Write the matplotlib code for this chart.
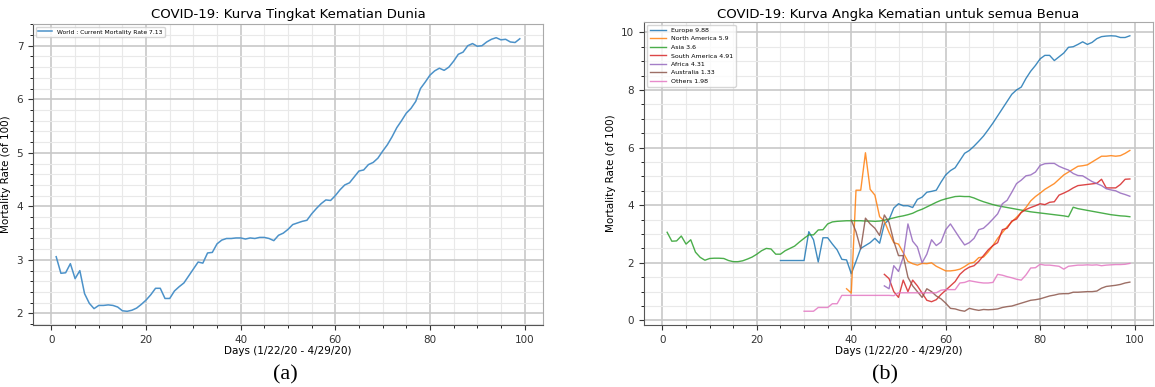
import matplotlib
matplotlib.use('Agg')
import matplotlib.pyplot as plt
import numpy as np

# world mortality rate, days 1..99
world_start = 1
world = [3.06, 2.75, 2.76, 2.93, 2.65, 2.8, 2.37, 2.19, 2.09, 2.15,
         2.15, 2.16, 2.15, 2.12, 2.05, 2.04, 2.06, 2.1, 2.17, 2.25,
         2.35, 2.47, 2.47, 2.28, 2.28, 2.42, 2.5, 2.57, 2.7, 2.83,
         2.96, 2.94, 3.13, 3.14, 3.3, 3.37, 3.4, 3.4, 3.41, 3.41,
         3.39, 3.41, 3.4, 3.42, 3.42, 3.4, 3.36, 3.46, 3.5, 3.57,
         3.66, 3.69, 3.72, 3.74, 3.86, 3.96, 4.05, 4.12, 4.11, 4.2,
         4.31, 4.4, 4.44, 4.55, 4.66, 4.68, 4.78, 4.82, 4.9, 5.03,
         5.15, 5.3, 5.47, 5.6, 5.74, 5.83, 5.96, 6.2, 6.32, 6.45,
         6.53, 6.58, 6.54, 6.6, 6.71, 6.84, 6.88, 7.0, 7.04, 6.99,
         7.0, 7.07, 7.12, 7.15, 7.11, 7.12, 7.07, 7.06, 7.13]

# continents: (start day, values)
europe_start = 25
europe = [2.08, 2.08, 2.08, 2.08, 2.08, 2.08, 3.08, 2.8, 2.03, 2.87,
          2.87, 2.65, 2.45, 2.12, 2.1, 1.62, 2.05, 2.5, 2.6, 2.7,
          2.85, 2.68, 3.35, 3.5, 3.9, 4.05, 3.98, 3.98, 3.92, 4.2,
          4.28, 4.45, 4.48, 4.52, 4.8, 5.05, 5.2, 5.3, 5.55, 5.8,
          5.9, 6.05, 6.22, 6.4, 6.62, 6.85, 7.1, 7.35, 7.6, 7.85,
          8.0, 8.1, 8.4, 8.65, 8.85, 9.08, 9.2, 9.2, 9.02, 9.15,
          9.28, 9.48, 9.5, 9.58, 9.67, 9.58, 9.65, 9.78, 9.85, 9.87,
          9.88, 9.87, 9.82, 9.82, 9.88]

namerica_start = 39
namerica = [1.1, 0.95, 4.52, 4.52, 5.82, 4.55, 4.35, 3.6, 3.45, 3.05,
            2.7, 2.65, 2.35, 2.05, 1.97, 1.92, 1.98, 1.97, 2.0, 1.88,
            1.8, 1.72, 1.72, 1.74, 1.78, 1.87, 1.98, 2.02, 2.18, 2.2,
            2.38, 2.6, 2.85, 3.05, 3.25, 3.42, 3.58, 3.75, 3.92, 4.15,
            4.3, 4.42, 4.55, 4.65, 4.75, 4.9, 5.05, 5.15, 5.25, 5.35,
            5.37, 5.4, 5.5, 5.6, 5.7, 5.7, 5.72, 5.7, 5.72, 5.8, 5.9]

asia_start = 1
asia = [3.06, 2.75, 2.76, 2.93, 2.65, 2.8, 2.37, 2.19, 2.09, 2.15,
        2.16, 2.16, 2.15, 2.08, 2.04, 2.04, 2.07, 2.13, 2.2, 2.3,
        2.42, 2.5, 2.48, 2.3, 2.3, 2.42, 2.5, 2.58, 2.72, 2.85,
        2.97, 2.97, 3.14, 3.15, 3.35, 3.42, 3.44, 3.45, 3.46, 3.46,
        3.46, 3.46, 3.45, 3.45, 3.44, 3.45, 3.48, 3.52, 3.56, 3.6,
        3.63, 3.67, 3.72, 3.8, 3.86, 3.94, 4.02, 4.1, 4.17, 4.22,
        4.26, 4.3, 4.31, 4.3, 4.3, 4.25, 4.18, 4.12, 4.07, 4.02,
        3.98, 3.95, 3.92, 3.89, 3.86, 3.83, 3.8, 3.77, 3.75, 3.73,
        3.71, 3.69, 3.67, 3.65, 3.63, 3.6, 3.93, 3.88, 3.85, 3.82,
        3.79, 3.76, 3.73, 3.7, 3.67, 3.65, 3.63, 3.62, 3.6]

samerica_start = 47
samerica = [1.6, 1.45, 1.0, 0.8, 1.4, 1.0, 1.4, 1.2, 0.95, 0.7,
            0.65, 0.72, 0.9, 1.05, 1.2, 1.35, 1.6, 1.75, 1.85, 1.9,
            2.05, 2.25, 2.45, 2.6, 2.7, 3.15, 3.2, 3.45, 3.52, 3.75,
            3.85, 3.92, 3.98, 4.05, 4.02, 4.1, 4.12, 4.35, 4.42, 4.5,
            4.6, 4.68, 4.7, 4.72, 4.74, 4.76, 4.9, 4.6, 4.6, 4.6,
            4.72, 4.9, 4.91]

africa_start = 47
africa = [1.2, 1.1, 1.9, 1.7, 2.2, 3.35, 2.75, 2.55, 2.0, 2.3,
          2.8, 2.6, 2.72, 3.15, 3.35, 3.1, 2.85, 2.62, 2.7, 2.85,
          3.15, 3.2, 3.35, 3.52, 3.7, 4.05, 4.17, 4.45, 4.75, 4.87,
          5.02, 5.05, 5.15, 5.38, 5.44, 5.45, 5.45, 5.35, 5.28, 5.22,
          5.1, 5.03, 5.02, 4.92, 4.82, 4.75, 4.68, 4.57, 4.53, 4.5,
          4.42, 4.37, 4.31]

australia_start = 40
australia = [3.48, 3.08, 2.48, 3.55, 3.35, 3.2, 2.95, 3.66, 3.4, 2.75,
             2.25, 2.25, 1.5, 1.2, 1.0, 0.8, 1.1, 1.0, 0.85, 0.75,
             0.6, 0.42, 0.4, 0.35, 0.32, 0.42, 0.38, 0.35, 0.38, 0.37,
             0.38, 0.4, 0.45, 0.48, 0.5, 0.55, 0.6, 0.65, 0.7, 0.72,
             0.75, 0.8, 0.85, 0.88, 0.92, 0.93, 0.93, 0.98, 0.98, 0.99,
             1.0, 1.0, 1.02, 1.12, 1.18, 1.2, 1.22, 1.25, 1.3, 1.33]

others_start = 30
others = [0.32, 0.32, 0.32, 0.45, 0.45, 0.45, 0.58, 0.58, 0.87, 0.87,
          0.87, 0.87, 0.87, 0.87, 0.87, 0.87, 0.87, 0.87, 0.87, 0.86,
          0.96, 0.96, 0.96, 0.96, 0.96, 0.96, 0.96, 0.96, 0.96, 1.05,
          1.07, 1.07, 1.07, 1.3, 1.32, 1.38, 1.35, 1.32, 1.3, 1.3,
          1.32, 1.6, 1.57, 1.52, 1.48, 1.43, 1.4, 1.58, 1.82, 1.83,
          1.95, 1.92, 1.92, 1.9, 1.88, 1.78, 1.88, 1.9, 1.92, 1.92,
          1.93, 1.92, 1.93, 1.9, 1.92, 1.93, 1.94, 1.94, 1.95, 1.98]

continents = [('Europe', europe_start, europe),
              ('North America', namerica_start, namerica),
              ('Asia', asia_start, asia),
              ('South America', samerica_start, samerica),
              ('Africa', africa_start, africa),
              ('Australia', australia_start, australia),
              ('Others', others_start, others)]


def style_axes(ax):
    ax.minorticks_on()
    ax.grid(which='major', color='#c8c8c8', linewidth=1.2)
    ax.grid(which='minor', color='#e9e9e9', linewidth=0.8)
    ax.set_axisbelow(True)
    for side in ['left', 'bottom']:
        ax.spines[side].set_color('#555555')
    for side in ['top', 'right']:
        ax.spines[side].set_color('#aaaaaa')
    ax.tick_params(labelsize=7.5, colors='#333333')
    ax.tick_params(which='minor', length=2)
    ax.set_xlabel('Days (1/22/20 - 4/29/20)', fontsize=7.5, labelpad=1)
    ax.set_ylabel('Mortality Rate (of 100)', fontsize=7.5)


fig = plt.figure(figsize=(11.55, 3.87), dpi=100)
ax1 = fig.add_axes([33 / 1155, 1 - 325 / 387, 510 / 1155, 301 / 387])
ax2 = fig.add_axes([644 / 1155, 1 - 325 / 387, 509 / 1155, 303 / 387])

days = np.arange(world_start, world_start + len(world))
ax1.plot(days, world, color='#4c92c9', linewidth=1.1,
         label=f'World : Current Mortality Rate {world[-1]}')
ax1.set_title('COVID-19: Kurva Tingkat Kematian Dunia', fontsize=9.5, pad=4)
style_axes(ax1)
ax1.legend(loc='upper left', fontsize=4.3, handlelength=2.3)

for name, start, vals in continents:
    d = np.arange(start, start + len(vals))
    ax2.plot(d, vals, linewidth=1.0, alpha=0.85, label=f'{name} {vals[-1]}')
ax2.set_title('COVID-19: Kurva Angka Kematian untuk semua Benua', fontsize=9.5, pad=3)
style_axes(ax2)
ax2.legend(loc='upper left', fontsize=4.5, handlelength=2.6, labelspacing=0.5)

fig.text(285 / 1155, 0.02, '(a)', fontsize=16, family='Liberation Serif', ha='center')
fig.text(885 / 1155, 0.02, '(b)', fontsize=16, family='Liberation Serif', ha='center')

fig.savefig('out.png', dpi=100)
